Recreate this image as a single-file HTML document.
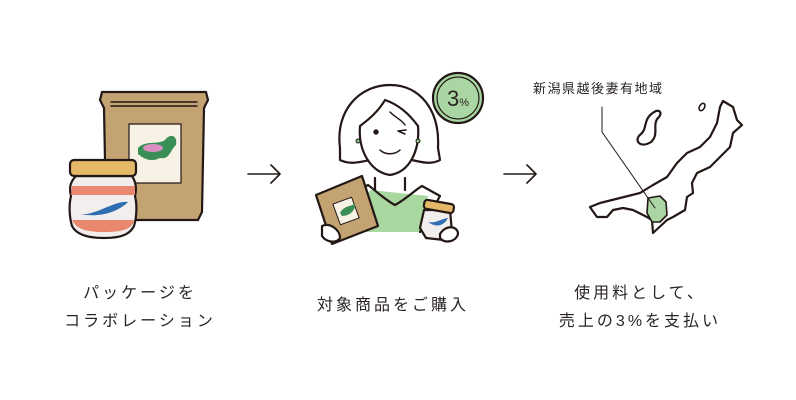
<!DOCTYPE html>
<html><head><meta charset="utf-8"><style>
html,body{margin:0;padding:0;background:#fff;width:796px;height:400px;overflow:hidden}
svg{display:block}
text{font-family:"Liberation Sans","Noto Sans CJK JP",sans-serif;fill:#2a2523}
</style></head><body>
<svg width="796" height="400" viewBox="0 0 796 400" xmlns="http://www.w3.org/2000/svg">
<g stroke="#231815" stroke-width="2.2" stroke-linejoin="round" stroke-linecap="round">
<!-- bag -->
<path d="M102 92 L206 92 L208 100 L204 108 L202 212 L198 220 L110 220 L106 212 L104 108 L100 100 Z" fill="#c4a372"/>
<line x1="111" y1="102" x2="197" y2="102" stroke-width="1.5"/>
<line x1="111" y1="106" x2="197" y2="106" stroke-width="1.5"/>
<rect x="129" y="124" width="52" height="59" fill="#f8f2e6" stroke-width="1.2"/>
<path d="M138 148 C145 140 158 145 165 140 C170 133 178 135 176 145 C170 150 170 160 160 158 C152 162 145 160 138 154 Z" fill="#3a8f57" stroke="none"/>
<ellipse cx="153" cy="148" rx="10" ry="4" fill="#d98fbf" stroke="none"/>
<!-- jar -->
<path d="M76 176 L132 176 C136 182 137 188 135 196 C137 204 137 216 134 226 C130 234 122 238 104 238 C86 238 76 234 72 226 C69 216 69 204 71 196 C69 188 70 182 76 176 Z" fill="#f3eeee"/>
<path d="M72 186 L135 186 L135 195 L71 195 Z" fill="#e9876f" stroke="none"/>
<path d="M72 220 L134 220 C132 228 126 232 104 232 C84 232 76 228 72 220 Z" fill="#e9876f" stroke="none"/>
<path d="M80 214 C95 216 115 200 128 202 C118 212 100 218 80 214 Z" fill="#2f6eb3" stroke="none"/>
<rect x="70" y="160" width="66" height="16" rx="4" fill="#e4b867"/>
<!-- arrows -->
<path d="M248 174 H280 M271 165 L280 174 L271 183" fill="none" stroke-width="1.6"/>
<path d="M504 174 H536 M527 165 L536 174 L527 183" fill="none" stroke-width="1.6"/>
<!-- 3% badge -->
<circle cx="458" cy="98" r="25" fill="#a9d6a2"/>
<circle cx="458" cy="98" r="21" fill="none" stroke-width="1.2"/>
<!-- person -->
<path d="M340 148 C335 110 360 85 390 85 C420 85 440 110 438 148 L440 160 C432 165 420 162 412 160 L370 160 C360 162 350 165 340 160 Z" fill="#fff"/>
<path d="M370 190 L350 232 L420 232 L428 196 Z" fill="#a8d7a0" stroke="none"/>
<path d="M368 185 C375 190 385 200 395 205 C405 200 415 190 422 186 L440 196 L420 232 M368 185 L350 195" fill="none"/>
<path d="M360 126 C358 150 370 172 390 175 C410 172 420 150 418 126 C410 115 400 105 385 100 C378 112 368 120 360 126 Z" fill="#fff"/>
<path d="M375 178 L375 190 M405 178 L405 190" fill="none"/>
<circle cx="358" cy="141" r="2" fill="#8cc68a" stroke-width="1"/>
<circle cx="418" cy="141" r="2" fill="#8cc68a" stroke-width="1"/>
<circle cx="376" cy="132" r="1.6" fill="#231815"/>
<path d="M398 131 L406 130 M398 131 L405 134" fill="none" stroke-width="1.5"/>
<path d="M380 150 C385 155 395 155 400 150" fill="none" stroke-width="1.5"/>
<path d="M390 112 C396 118 402 120 405 125" fill="none" stroke-width="1.5"/>
<!-- small bag -->
<path d="M316 195 L362 176 L378 226 L332 244 Z" fill="#c4a372"/>
<rect x="336" y="200" width="20" height="22" fill="#f8f2e6" stroke-width="1" transform="rotate(-20 346 211)"/>
<path d="M340 213 C344 205 352 207 355 203 C356 210 350 216 342 216 Z" fill="#3a8f57" stroke="none"/>
<path d="M322 226 C330 222 340 230 340 238 C336 244 326 242 322 236 Z" fill="#fff"/>
<!-- small jar -->
<path d="M424 210 L450 210 L452 232 L444 240 L426 238 L420 228 Z" fill="#f3eeee"/>
<path d="M428 222 C435 224 443 218 448 218 C444 226 436 228 428 222 Z" fill="#2f6eb3" stroke="none"/>
<rect x="424" y="202" width="30" height="9" rx="3" fill="#e4b867" transform="rotate(10 439 206)"/>
<path d="M440 234 C446 224 458 226 458 234 C456 242 444 244 440 238 Z" fill="#fff"/>
<!-- map -->
<path d="M590 207 L600 203 L620 198 L640 193 L653 185 L667 177 L677 163 L687 153 L700 147 L710 137 L717 123 L720 107 L723 101 L733 107 L737 120 L742 125 L733 133 L730 147 L720 157 L710 167 L697 173 L692 183 L693 193 L687 197 L685 210 L673 217 L667 220 L653 233 L652 220 L647 217 L633 210 L623 208 L613 210 L607 217 L597 217 L592 210 Z" fill="#fff"/>
<path d="M648 198 L660 196 L666 202 L667 215 L660 222 L652 222 L647 213 Z" fill="#a9d6a2" stroke-width="1.6"/>
<path d="M656 111 C642 118 648 128 641 134 C633 140 640 149 651 142 C660 134 651 124 659 117 C662 113 660 110 656 111 Z" fill="#fff"/>
<ellipse cx="702" cy="107" rx="2.5" ry="4" fill="#fff" stroke-width="1.6" transform="rotate(30 702 107)"/>
<path d="M602 107 L602 132 L655 208" fill="none" stroke-width="1"/>
</g>
<text x="458" y="106" font-size="22" text-anchor="middle">3<tspan font-size="11">%</tspan></text>
<text x="533" y="93" font-size="13" letter-spacing="1.5">新潟県越後妻有地域</text>
<g font-size="16" text-anchor="middle" letter-spacing="3">
<text x="140" y="298">パッケージを</text>
<text x="140" y="326">コラボレーション</text>
<text x="393" y="310">対象商品をご購入</text>
<text x="640" y="298">使用料として、</text>
<text x="640" y="326">売上の3%を支払い</text>
</g>
</svg>
</body></html>
